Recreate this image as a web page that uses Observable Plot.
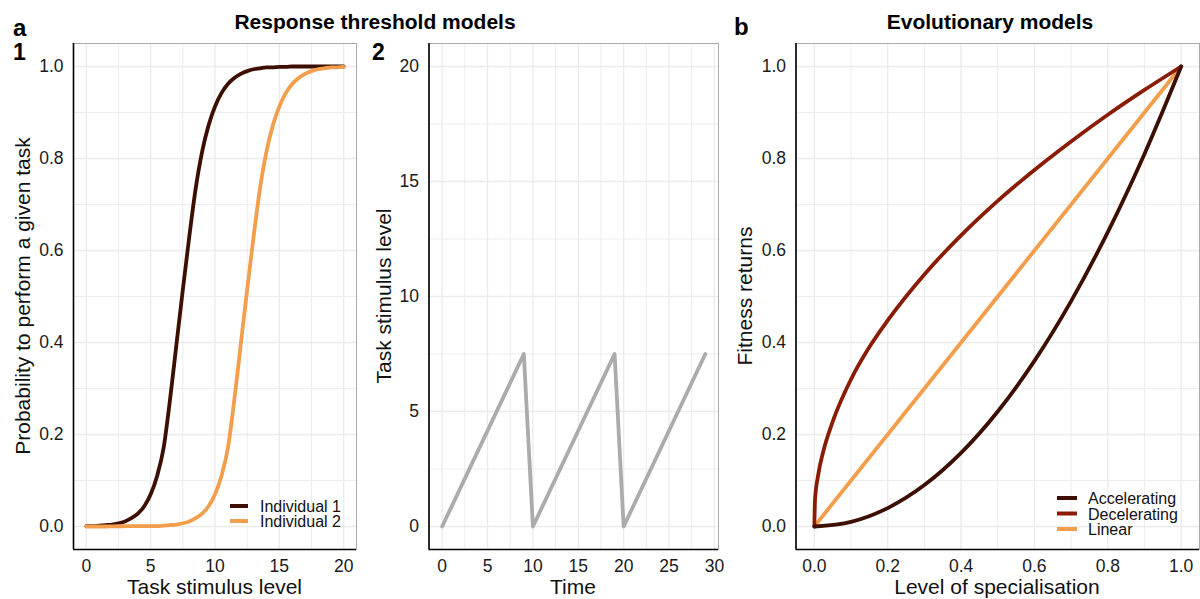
<!DOCTYPE html>
<html>
<head>
<meta charset="utf-8">
<script src="https://cdn.jsdelivr.net/npm/d3@7"></script>
<script src="https://cdn.jsdelivr.net/npm/@observablehq/plot@0.6"></script>
<style>
  body { margin: 0; background: #fff; }
  #root { position: relative; width: 1200px; height: 599px; overflow: hidden; background: #fff; }
</style>
</head>
<body>
<div id="root"></div>
<script>
// ---------- Data ----------
// Panel a1: response threshold curves
const stimulus = [0,0.5,1,1.5,2,2.5,3,3.5,4,4.5,5,5.5,6,6.5,7,7.5,8,8.5,9,9.5,10,10.5,11,11.5,12,12.5,13,13.5,14,14.5,15,15.5,16,16.5,17,17.5,18,18.5,19,19.5,20];
const individual1 = [0.001,0.001,0.002,0.003,0.004,0.007,0.011,0.018,0.028,0.044,0.07,0.11,0.17,0.275,0.395,0.515,0.63,0.735,0.815,0.872,0.913,0.942,0.962,0.975,0.984,0.99,0.994,0.996,0.998,0.998,0.999,0.999,1,1,1,1,1,1,1,1,1];
const individual2 = [0,0,0,0,0.0003,0.0005,0.0006,0.0007,0.0008,0.0009,0.001,0.001,0.002,0.003,0.004,0.007,0.011,0.018,0.028,0.044,0.07,0.11,0.17,0.275,0.395,0.515,0.63,0.735,0.815,0.872,0.913,0.942,0.962,0.975,0.984,0.99,0.994,0.996,0.998,0.998,0.999];
const individualNames = ["Individual 1", "Individual 2"];
const individualColors = ["#3d0e02", "#f29e4c"];

// Panel a2: task stimulus over time
const time = [0, 9, 10, 19, 20, 29];
const timeStimulus = [0, 7.5, 0, 7.5, 0, 7.5];

// Panel b: evolutionary models
const specialisation = [0,0.1,0.2,0.3,0.4,0.5,0.6,0.7,0.8,0.9,1];
const accelerating = [0,0.01,0.04,0.09,0.16,0.25,0.36,0.49,0.64,0.81,1];
const decelSpecialisation = [0,0.002,0.01,0.025,0.05,0.1,0.15,0.2,0.3,0.4,0.5,0.6,0.7,0.8,0.9,1];
const decelerating = [0,0.06,0.11,0.165,0.228,0.32,0.39,0.448,0.548,0.633,0.708,0.775,0.837,0.895,0.949,1];
const linearSpecialisation = [0, 1];
const linear = [0, 1];
const modelNames = ["Accelerating", "Decelerating", "Linear"];
const modelColors = ["#3d0e02", "#8a1c05", "#f29e4c"];

// Tick values
const ticksA1x = [0,5,10,15,20];
const minorA1x = [2.5,7.5,12.5,17.5];
const ticksProb = [0,0.2,0.4,0.6,0.8,1];
const minorProb = [0.1,0.3,0.5,0.7,0.9];
const ticksTime = [0,5,10,15,20,25,30];
const minorTime = [2.5,7.5,12.5,17.5,22.5,27.5];
const ticksA2y = [0,5,10,15,20];
const minorA2y = [2.5,7.5,12.5,17.5];
const ticksSpec = [0,0.2,0.4,0.6,0.8,1];
const minorSpec = [0.1,0.3,0.5,0.7,0.9];

// ---------- Build ----------
const root = document.getElementById("root");
const FONT = "'Liberation Sans', Arial, Helvetica, sans-serif";
const LW = 3.8;

function panel(cfg) {
  const grid = "#ebebeb";
  const p = Plot.plot({
    width: cfg.width,
    height: 599,
    marginLeft: cfg.marginLeft,
    marginRight: cfg.marginRight,
    marginTop: 43,
    marginBottom: 50,
    x: {domain: cfg.xDomain},
    y: {domain: cfg.yDomain},
    style: {fontFamily: FONT, fontSize: "17.5px", color: "#1a1a1a", background: "transparent", overflow: "visible"},
    marks: [
      Plot.gridX({ticks: cfg.xMinor, stroke: grid, strokeOpacity: 1, strokeWidth: 0.9}),
      Plot.gridY({ticks: cfg.yMinor, stroke: grid, strokeOpacity: 1, strokeWidth: 0.9}),
      Plot.gridX({ticks: cfg.xTicks, stroke: grid, strokeOpacity: 1, strokeWidth: 1.3}),
      Plot.gridY({ticks: cfg.yTicks, stroke: grid, strokeOpacity: 1, strokeWidth: 1.3}),
      Plot.frame({stroke: "#ababab", strokeWidth: 1}),
      ...cfg.marks,
      Plot.ruleX([cfg.xDomain[0]], {stroke: "#000", strokeWidth: 1.6}),
      Plot.ruleY([cfg.yDomain[0]], {stroke: "#000", strokeWidth: 1.6}),
      Plot.axisX({ticks: cfg.xTicks, tickSize: 0, tickPadding: 10, tickFormat: cfg.xFormat, label: null}),
      Plot.axisY({ticks: cfg.yTicks, tickSize: 0, tickPadding: 10, tickFormat: cfg.yFormat, label: null})
    ]
  });
  p.style.position = "absolute";
  p.style.left = cfg.left + "px";
  p.style.top = "0px";
  root.appendChild(p);
}

const f1 = d3.format(".1f");
const fi = d3.format("d");

// Panel a1
const a1Data = [];
stimulus.forEach((s, i) => {
  a1Data.push({s, p: individual1[i], who: individualNames[0]});
});
stimulus.forEach((s, i) => {
  a1Data.push({s, p: individual2[i], who: individualNames[1]});
});
panel({
  left: 0, width: 360, marginLeft: 73, marginRight: 4,
  xDomain: [-1, 21], yDomain: [-0.05, 1.05],
  xTicks: ticksA1x, xMinor: minorA1x, yTicks: ticksProb, yMinor: minorProb,
  xFormat: fi, yFormat: f1,
  marks: individualNames.map((n, k) =>
    Plot.line(a1Data.filter(d => d.who === n), {x: "s", y: "p", stroke: individualColors[k], strokeWidth: LW, curve: "monotone-x"})
  )
});

// Panel a2
const a2Data = time.map((t, i) => ({t, v: timeStimulus[i]}));
panel({
  left: 360, width: 360, marginLeft: 68.5, marginRight: 2,
  xDomain: [-1.45, 30.45], yDomain: [-1, 21],
  xTicks: ticksTime, xMinor: minorTime, yTicks: ticksA2y, yMinor: minorA2y,
  xFormat: fi, yFormat: fi,
  marks: [Plot.line(a2Data, {x: "t", y: "v", stroke: "#ababab", strokeWidth: LW})]
});

// Panel b
const accData = specialisation.map((x, i) => ({x, y: accelerating[i]}));
const decData = decelSpecialisation.map((x, i) => ({x, y: decelerating[i]}));
const linData = linearSpecialisation.map((x, i) => ({x, y: linear[i]}));
panel({
  left: 725, width: 475, marginLeft: 70.5, marginRight: 1,
  xDomain: [-0.05, 1.05], yDomain: [-0.05, 1.05],
  xTicks: ticksSpec, xMinor: minorSpec, yTicks: ticksProb, yMinor: minorProb,
  xFormat: f1, yFormat: f1,
  marks: [
    Plot.line(linData, {x: "x", y: "y", stroke: modelColors[2], strokeWidth: LW}),
    Plot.line(decData, {x: "x", y: "y", stroke: modelColors[1], strokeWidth: LW, curve: "monotone-x"}),
    Plot.line(accData, {x: "x", y: "y", stroke: modelColors[0], strokeWidth: LW, curve: "monotone-x"})
  ]
});

// ---------- Overlay text: titles, labels, legends ----------
const ov = d3.select(root).append("svg")
  .attr("width", 1200).attr("height", 599)
  .style("position", "absolute").style("left", "0px").style("top", "0px")
  .style("font-family", FONT);

function txt(x, y, s, size, opts = {}) {
  const t = ov.append("text").attr("x", x).attr("y", y).text(s)
    .attr("font-size", size).attr("fill", opts.fill || "#000")
    .attr("text-anchor", opts.anchor || "start")
    .attr("font-weight", opts.bold ? "bold" : "normal");
  if (opts.rotate) t.attr("transform", `rotate(-90 ${x} ${y})`);
  return t;
}

txt(13, 36, "a", 24, {bold: true});
txt(13, 60, "1", 23, {bold: true});
txt(372, 60, "2", 23, {bold: true});
txt(734, 35, "b", 24, {bold: true});
txt(375, 29, "Response threshold models", 21, {bold: true, anchor: "middle"});
txt(990, 29, "Evolutionary models", 21, {bold: true, anchor: "middle"});

txt(214.5, 594, "Task stimulus level", 21, {anchor: "middle", fill: "#111"});
txt(573, 594, "Time", 21, {anchor: "middle", fill: "#111"});
txt(997, 594, "Level of specialisation", 21, {anchor: "middle", fill: "#111"});

txt(30, 296, "Probability to perform a given task", 21, {anchor: "middle", rotate: true, fill: "#111"});
txt(391, 296, "Task stimulus level", 21, {anchor: "middle", rotate: true, fill: "#111"});
txt(752, 296, "Fitness returns", 21, {anchor: "middle", rotate: true, fill: "#111"});

// Legends
const leg1Y = [506, 521];
individualNames.forEach((n, i) => {
  ov.append("line").attr("x1", 230).attr("x2", 248).attr("y1", leg1Y[i]).attr("y2", leg1Y[i])
    .attr("stroke", individualColors[i]).attr("stroke-width", 4);
  txt(260, leg1Y[i] + 6, n, 16, {fill: "#111"});
});
const leg2Y = [498, 513.5, 529];
modelNames.forEach((n, i) => {
  ov.append("line").attr("x1", 1057).attr("x2", 1077).attr("y1", leg2Y[i]).attr("y2", leg2Y[i])
    .attr("stroke", modelColors[i]).attr("stroke-width", 4);
  txt(1088, leg2Y[i] + 6, n, 16, {fill: "#111"});
});
</script>
</body>
</html>
